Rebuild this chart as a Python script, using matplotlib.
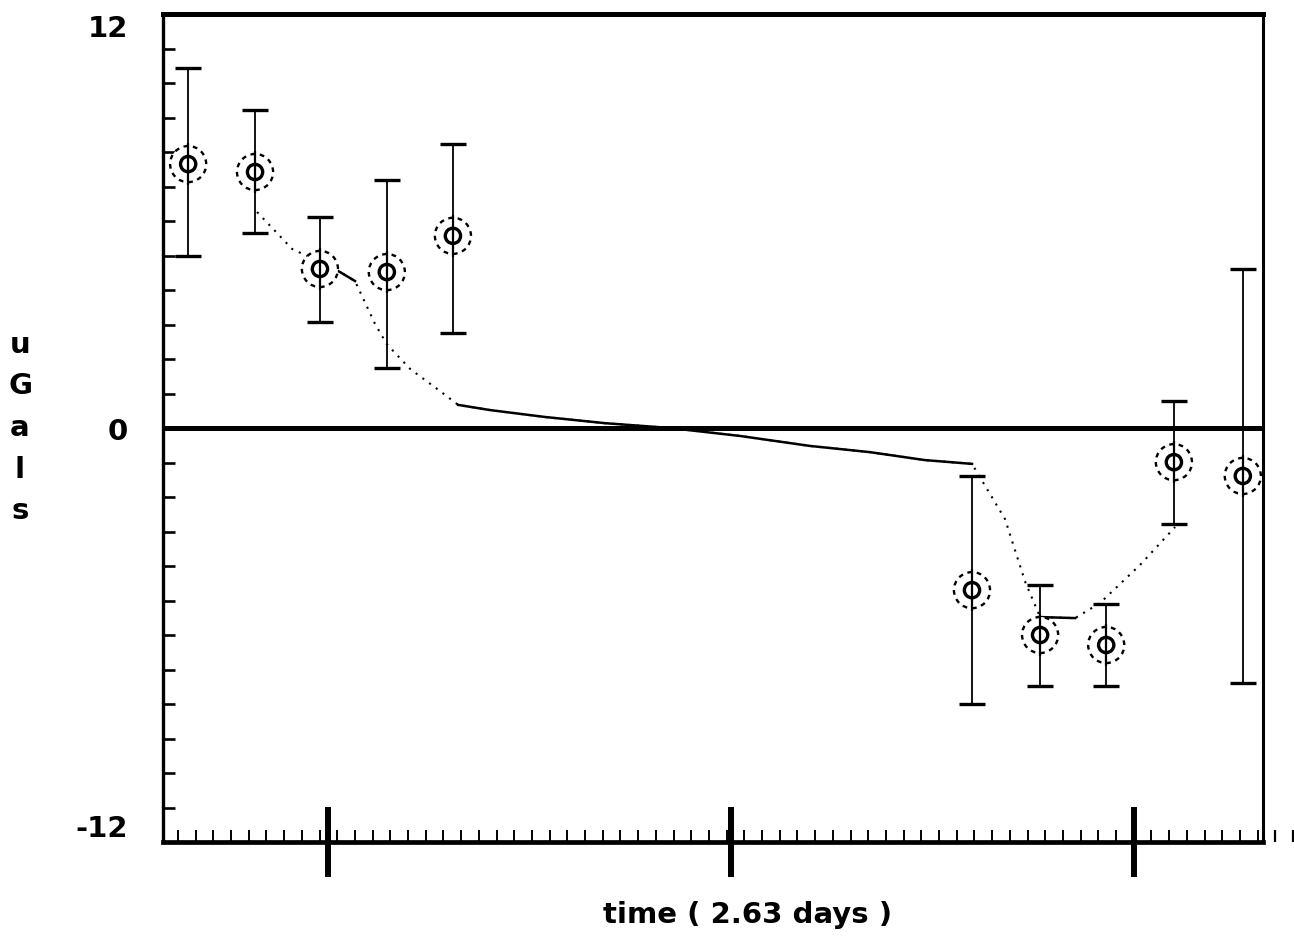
import numpy as np
import matplotlib.pyplot as plt
from matplotlib.ticker import FixedLocator

# survey points: time in days, gravity change in uGals
time_days = [0.653, 0.819, 0.980, 1.146, 1.310, 2.598, 2.767, 2.931, 3.099, 3.270]
gravity = [7.65, 7.42, 4.61, 4.52, 5.57, -4.70, -6.00, -6.29, -0.99, -1.39]
err_top = [10.43, 9.22, 6.12, 7.19, 8.23, -1.39, -4.55, -5.10, 0.78, 4.61]
err_bottom = [4.99, 5.65, 3.07, 1.74, 2.75, -8.00, -7.48, -7.48, -2.78, -7.39]

# model curve
model_time = [0.824, 0.911, 0.975, 1.030, 1.067, 1.117, 1.146, 1.204, 1.278,
              1.323, 1.402, 1.538, 1.687, 1.849, 2.022, 2.196, 2.345, 2.481,
              2.598, 2.680, 2.730, 2.767, 2.854, 2.916, 3.015, 3.102]
model_gravity = [6.26, 5.19, 4.84, 4.52, 4.26, 3.01, 2.43, 1.71, 1.07,
                 0.67, 0.52, 0.32, 0.14, 0.00, -0.23, -0.52, -0.70, -0.93,
                 -1.04, -2.64, -4.46, -5.48, -5.51, -5.07, -3.97, -2.87]
solid_pieces = [(2, 4), (9, 18), (21, 22)]

y_ticks = [-12, 0, 12]
y_tick_labels = ['-12', '0', '12']

plt.rcParams['font.family'] = ['DejaVu Sans']
plt.rcParams['font.weight'] = 'bold'

W, H = 1294, 937
fig = plt.figure(figsize=(W / 100, H / 100), dpi=100)
ax = fig.add_axes([163 / W, 1 - 843 / H, 1100 / W, 828 / H])

x_lo, x_hi = 0.5906, 3.3201
ax.set_xlim(x_lo, x_hi)
ax.set_ylim(-12, 12)

# zero line
ax.axhline(0, color='k', lw=3.6, zorder=1)

# model curve: dotted overall, solid where it flattens
mt = np.array(model_time)
mg = np.array(model_gravity)
ax.plot(mt, mg, color='k', lw=1.5, ls=(0, (1, 3)), zorder=2)
for i0, i1 in solid_pieces:
    ax.plot(mt[i0:i1 + 1], mg[i0:i1 + 1], color='k', lw=1.8, zorder=2)

# error bars
g = np.array(gravity)
lower = g - np.array(err_bottom)
upper = np.array(err_top) - g
ax.errorbar(time_days, gravity, yerr=[lower, upper], fmt='none', ecolor='k',
            elinewidth=1.3, capsize=9.5, capthick=2.4, zorder=3)

# double circle markers
ax.scatter(time_days, gravity, s=26 ** 2, facecolors='white', edgecolors='k',
           linewidths=1.7, linestyles=(0, (2, 2)), zorder=4)
ax.scatter(time_days, gravity, s=11 ** 2, facecolors='none', edgecolors='k',
           linewidths=2.4, zorder=5)
ax.vlines(time_days, g - 0.6, g + 0.6, color='k', lw=1.6, zorder=6)

# x ticks
ax.set_xticks([1, 2, 3])
ax.set_xticklabels([])
minor_x = 0.6278 + np.arange(64) * 0.04392
ax.xaxis.set_minor_locator(FixedLocator(minor_x[minor_x < x_hi]))
ax.tick_params(axis='x', which='major', direction='inout', length=50, width=4.3)
ax.tick_params(axis='x', which='minor', direction='in', length=9, width=1.4)
extra = minor_x[minor_x > x_hi + 0.01]
ax.vlines(extra, 0, 0.0145, transform=ax.get_xaxis_transform(), color='k',
          lw=1.6, clip_on=False)

# y ticks
ax.set_yticks(y_ticks)
ax.set_yticklabels(y_tick_labels)
ax.yaxis.set_minor_locator(FixedLocator(np.arange(-11, 12)))
ax.tick_params(axis='y', which='both', direction='in', length=8.6, width=1.9,
               pad=25, labelsize=21)
labels = ax.get_yticklabels()
labels[0].set_va('bottom')
labels[2].set_va('top')

for side, lw in [('top', 3.6), ('bottom', 3.4), ('left', 2.4), ('right', 2.2)]:
    ax.spines[side].set_linewidth(lw)

fig.text(748 / W, 1 - 915 / H, 'time ( 2.63 days )', ha='center', va='center',
         fontsize=21, fontweight='bold')
fig.text(20 / W, 1 - 428 / H, 'u\nG\na\nl\ns', ha='center', va='center',
         fontsize=21, fontweight='bold', linespacing=1.62)

fig.savefig('out.png', dpi=100)
